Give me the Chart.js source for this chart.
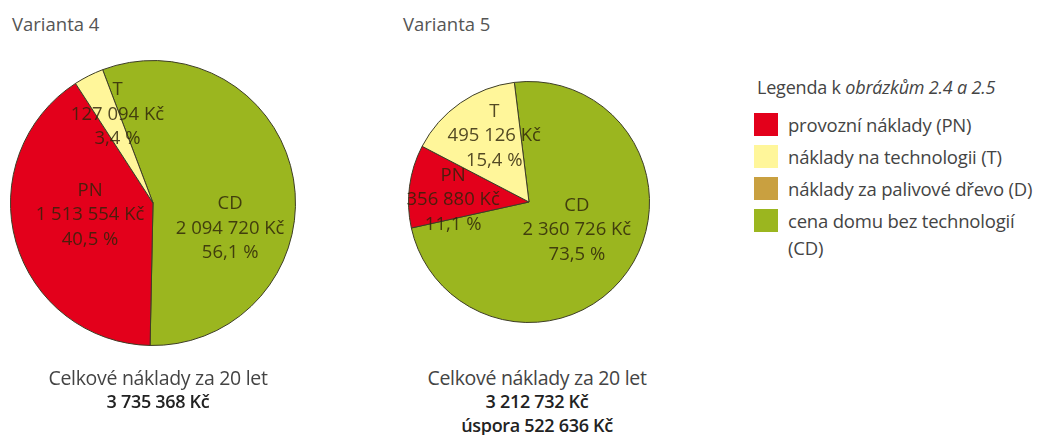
<!DOCTYPE html>
<html lang="cs">
<head>
<meta charset="utf-8">
<title>Varianta 4 a 5</title>
<script src="https://cdn.jsdelivr.net/npm/chart.js@4"></script>
<style>
    body { margin:0; width:1049px; height:435px; background:#fff; font-family:"Open Sans", sans-serif; color:#444; position:relative; overflow:hidden; }
    .title { position:absolute; top:11px; font-size:18.5px; color:#555; }
    .box { position:absolute; }
    .caption { position:absolute; width:320px; text-align:center; font-size:19.5px; line-height:23px; color:#444; letter-spacing:-0.3px; }
    .caption b { font-weight:600; color:#222; font-size:18px; }
    .legend { position:absolute; left:752px; top:75px; font-size:18.5px; color:#444; letter-spacing:-0.2px; }
    .legend .head { margin:0 0 12px 5px; font-size:18px; }
    .legend .row { display:flex; align-items:flex-start; margin-bottom:5px; line-height:27px; }
    .legend .sw { width:24px; height:23px; margin:2px 10px 0 2px; flex:none; }
</style>
</head>
<body>
<div class="title" style="left:12px">Varianta 4</div>
<div class="title" style="left:403px">Varianta 5</div>

<div class="box" style="left:-10px;top:40px;width:326px;height:326px"><canvas id="pie4"></canvas></div>
<div class="box" style="left:388px;top:61px;width:282px;height:282px"><canvas id="pie5"></canvas></div>

<div class="caption" style="left:-2px;top:366px">Celkové náklady za 20 let<br><b>3 735 368 Kč</b></div>
<div class="caption" style="left:377px;top:366px">Celkové náklady za 20 let<br><b>3 212 732 Kč</b><br><b>úspora 522 636 Kč</b></div>

<div class="legend" id="legend"></div>

<script>
// data
const slices = ['CD', 'PN', 'T'];
const variant4 = [2094720, 1513554, 127094];
const variant5 = [2360726, 356880, 495126];
const pct4 = ['56,1 %', '40,5 %', '3,4 %'];
const pct5 = ['73,5 %', '11,1 %', '15,4 %'];

const legendNames = ['provozní náklady (PN)', 'náklady na technologii (T)', 'náklady za palivové dřevo (D)', 'cena domu bez technologií<br>(CD)'];

const COLORS = { CD: '#9bb61f', PN: '#e3001b', T: '#fff69a', D: '#c9a040' };
const legendColors = [COLORS.PN, COLORS.T, COLORS.D, COLORS.CD];

// posun popisku vůči středu výseče: [úhel ve stupních, podíl poloměru]
const labelPos4 = [[28, 0.57], [5, 0.45], [5, 0.67]];
const labelPos5 = [[-5, 0.46], [-6, 0.63], [7, 0.62]];

function fmt(n) {
    return String(n).replace(/\B(?=(\d{3})+(?!\d))/g, ' ') + ' Kč';
}

const sliceLabels = {
    id: 'sliceLabels',
    afterDatasetsDraw(chart, args, opts) {
        const ctx = chart.ctx;
        const meta = chart.getDatasetMeta(0);
        const ds = chart.data.datasets[0];
        ctx.save();
        ctx.font = '18.5px "Open Sans", sans-serif';
        ctx.fillStyle = 'rgba(45,35,10,0.82)';
        ctx.textAlign = 'center';
        ctx.textBaseline = 'middle';
        meta.data.forEach((arc, i) => {
            const [dAng, frac] = opts.pos[i];
            const mid = (arc.startAngle + arc.endAngle) / 2 + dAng * Math.PI / 180;
            const r = arc.outerRadius * frac;
            const x = arc.x + Math.cos(mid) * r;
            const y = arc.y + Math.sin(mid) * r;
            const lines = [chart.data.labels[i], fmt(ds.data[i]), opts.pct[i]];
            lines.forEach((t, k) => ctx.fillText(t, x, y + (k - 1) * 24.5));
        });
        ctx.restore();
    }
};

function makePie(id, values, pct, pos, rotation, pad) {
    return new Chart(document.getElementById(id), {
        type: 'pie',
        data: {
            labels: slices,
            datasets: [{
                data: values,
                backgroundColor: slices.map(s => COLORS[s]),
                borderColor: '#3d3d25',
                borderWidth: 1
            }]
        },
        options: {
            responsive: true,
            maintainAspectRatio: false,
            animation: false,
            rotation: rotation,
            layout: { padding: pad },
            plugins: {
                legend: { display: false },
                tooltip: { enabled: false },
                sliceLabels: { pct, pos }
            }
        },
        plugins: [sliceLabels]
    });
}

makePie('pie4', variant4, pct4, labelPos4, -20.7, 20);
makePie('pie5', variant5, pct5, labelPos5, -7, 20);

document.getElementById('legend').innerHTML =
    '<div class="head">Legenda k <i>obrázkům 2.4 a 2.5</i></div>' +
    legendNames.map((n, i) => `<div class="row"><span class="sw" style="background:${legendColors[i]}"></span><span>${n}</span></div>`).join('');
</script>
</body>
</html>
